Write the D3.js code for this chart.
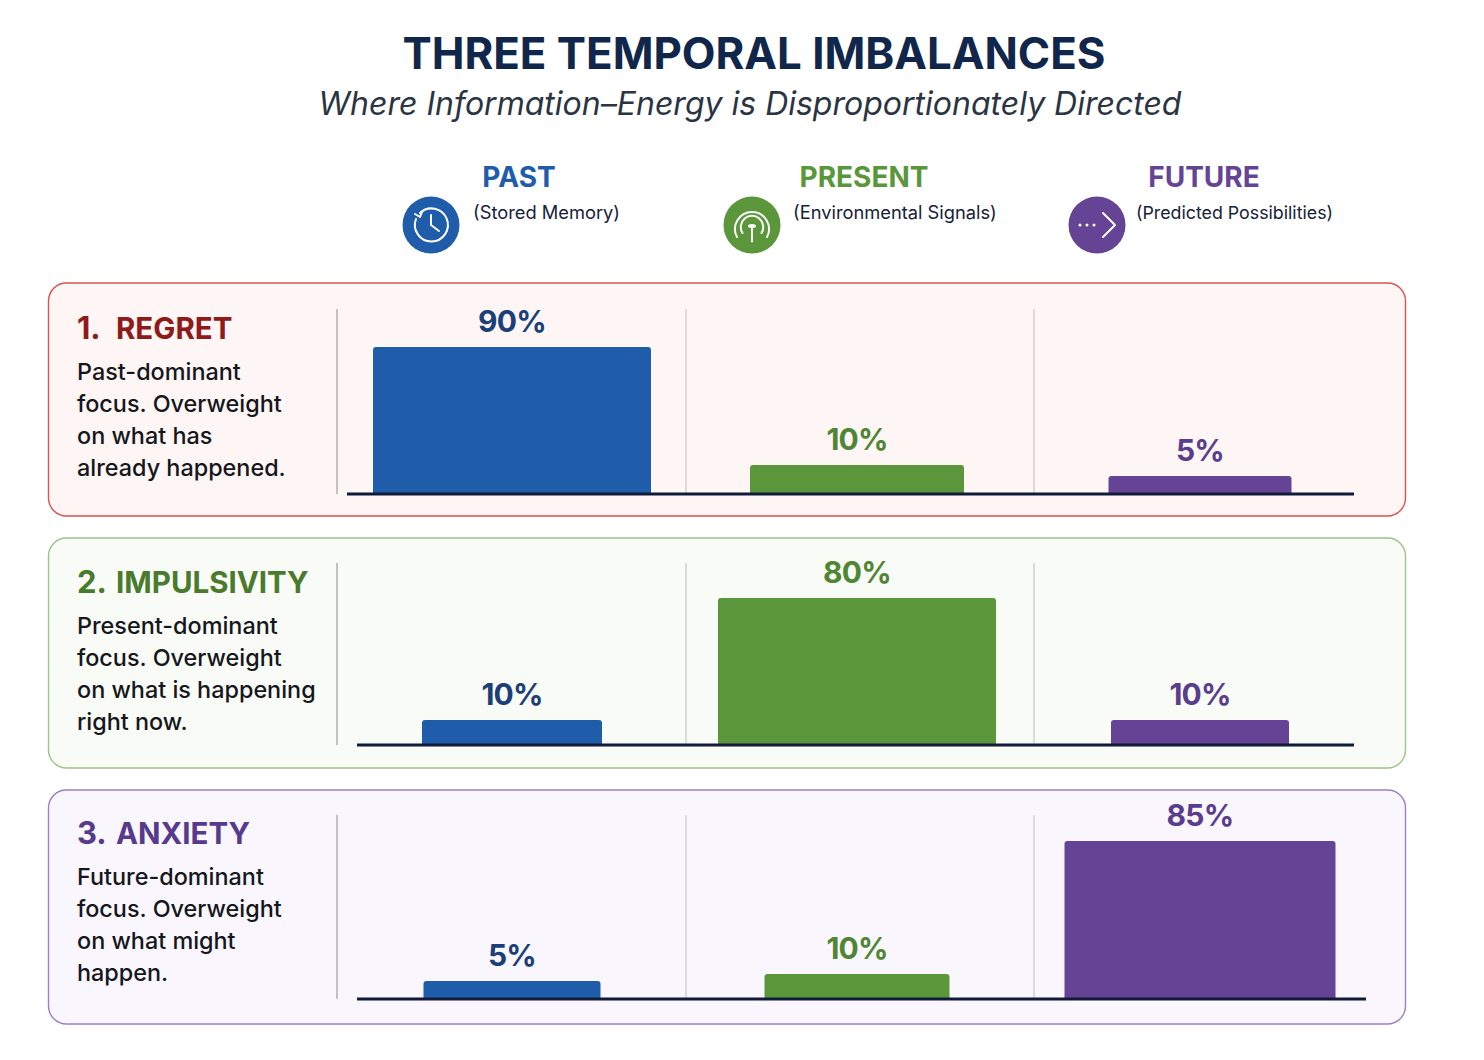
<!DOCTYPE html>
<html>
<head>
<meta charset="utf-8">
<script src="https://cdn.jsdelivr.net/npm/d3@7"></script>
<style>
  html, body { margin: 0; padding: 0; background: #fff; }
  svg { display: block; }
  text { font-family: Inter, Roboto, sans-serif; }
</style>
</head>
<body>
<div id="chart"></div>
<script>
// Data
const periods = ['PAST', 'PRESENT', 'FUTURE'];
const periodNotes = ['(Stored Memory)', '(Environmental Signals)', '(Predicted Possibilities)'];
const imbalanceNumbers = ['1.', '2.', '3.'];
const imbalances = ['REGRET', 'IMPULSIVITY', 'ANXIETY'];
const descriptions = [
  ['Past-dominant', 'focus. Overweight', 'on what has', 'already happened.'],
  ['Present-dominant', 'focus. Overweight', 'on what is happening', 'right now.'],
  ['Future-dominant', 'focus. Overweight', 'on what might', 'happen.']
];
const regretValues = [90, 10, 5];
const impulsivityValues = [10, 80, 10];
const anxietyValues = [5, 10, 85];

// Configuration
const WIDTH = 1484;
const HEIGHT = 1060;
const periodColors = ['#1f5dab', '#5b973a', '#654495'];
const labelColors = ['#1c3f77', '#4f8533', '#5b3d8e'];

// bars in the picture are not proportional, so each panel gets its own piecewise scale
const panels = [
  { values: regretValues, top: 283, bottom: 516, base: 494, ruleTop: 309, axis: [347, 1354],
    heights: [0, 18, 29, 147], widths: [278, 214, 183], edge: '#d9534f', fill: '#fdf6f5', titleColor: '#8e1a1a', titleY: 338.5, bodyY: 380 },
  { values: impulsivityValues, top: 538, bottom: 768, base: 745, ruleTop: 563, axis: [357, 1354],
    heights: [0, 18, 25, 147], widths: [180, 278, 178], edge: '#9dc48a', fill: '#f8fbf6', titleColor: '#4a7a2b', titleY: 592.5, bodyY: 634 },
  { values: anxietyValues, top: 790, bottom: 1024, base: 999, ruleTop: 815, axis: [357, 1366],
    heights: [0, 18, 25, 158], widths: [177, 185, 271], edge: '#9a80c6', fill: '#f9f7fd', titleColor: '#573a8c', titleY: 844, bodyY: 885 }
];

const svg = d3.select('#chart').append('svg')
  .attr('width', WIDTH)
  .attr('height', HEIGHT);

const x = d3.scaleOrdinal().domain(periods).range([512, 857, 1200]);

// Title
svg.append('text')
  .attr('x', 754).attr('y', 69)
  .attr('text-anchor', 'middle')
  .attr('font-size', 43.8).attr('font-weight', 700)
  .attr('fill', '#10264a')
  .text('THREE TEMPORAL IMBALANCES');

svg.append('text')
  .attr('x', 750).attr('y', 115)
  .attr('text-anchor', 'middle')
  .attr('font-size', 32).attr('font-style', 'italic')
  .attr('fill', '#2b3442')
  .text('Where Information\u2013Energy is Disproportionately Directed');

// Column header
const headerX = [519, 864, 1204];
const noteX = [473, 793, 1136];
const noteSize = [18.3, 18.3, 17.8];
const iconX = [431, 752, 1097];

periods.forEach((p, i) => {
  svg.append('text')
    .attr('x', headerX[i]).attr('y', 186.5)
    .attr('text-anchor', 'middle')
    .attr('font-size', 28).attr('font-weight', 700)
    .attr('fill', periodColors[i])
    .text(p);
  svg.append('text')
    .attr('x', noteX[i]).attr('y', 218.5)
    .attr('font-size', noteSize[i])
    .attr('fill', '#16213a')
    .text(periodNotes[i]);
  const icon = svg.append('g').attr('transform', `translate(${iconX[i]},225)`);
  icon.append('circle').attr('r', 28.5).attr('fill', periodColors[i]);
  drawIcon(icon, i);
});

function drawIcon(g, i) {
  const s = { fill: 'none', stroke: '#fff', 'stroke-width': 2, 'stroke-linecap': 'round', 'stroke-linejoin': 'round' };
  const add = (d) => {
    const el = g.append('path').attr('d', d);
    Object.entries(s).forEach(([k, v]) => el.attr(k, v));
    return el;
  };
  if (i === 0) {
    add('M-11,-12 A16.5,16.5 0 1 1 -15,-6');
    add('M-16,-11 L-11,-8 L-9,-13');
    add('M0,-10 L0,0 L8,6');
  } else if (i === 1) {
    add('M-15,12 A17,17 0 1 1 15,12');
    add('M-9.5,8 A11.2,11.2 0 1 1 9.5,8');
    add('M0,1 L0,16.5');
    g.append('ellipse').attr('cx', 0).attr('cy', 1).attr('rx', 4).attr('ry', 2).attr('fill', '#fff');
  } else {
    g.selectAll('circle.dot').data([-17, -10, -3]).enter().append('circle')
      .attr('class', 'dot').attr('cx', d => d).attr('cy', 0).attr('r', 1.5).attr('fill', '#fff');
    add('M6,-12 L18,0 L6,12');
  }
}

// Panels
panels.forEach((panel, k) => {
  const g = svg.append('g');

  g.append('rect')
    .attr('x', 48.5).attr('y', panel.top)
    .attr('width', 1357).attr('height', panel.bottom - panel.top)
    .attr('rx', 18)
    .attr('fill', panel.fill)
    .attr('stroke', panel.edge)
    .attr('stroke-width', 1.4);

  g.append('text')
    .attr('x', 77).attr('y', panel.titleY)
    .attr('font-size', 31).attr('font-weight', 700)
    .attr('fill', panel.titleColor)
    .text(imbalanceNumbers[k]);

  g.append('text')
    .attr('x', 116).attr('y', panel.titleY)
    .attr('font-size', 29.5).attr('font-weight', 700)
    .attr('fill', panel.titleColor)
    .text(imbalances[k]);

  descriptions[k].forEach((line, j) => {
    g.append('text')
      .attr('x', 77).attr('y', panel.bodyY + j * 32.1)
      .attr('font-size', 23.4).attr('font-weight', 500)
      .attr('fill', '#15171c')
      .text(line);
  });

  // vertical separators
  [337, 686, 1034].forEach((sx, j) => {
    g.append('line')
      .attr('x1', sx).attr('x2', sx)
      .attr('y1', panel.ruleTop).attr('y2', panel.base)
      .attr('stroke', j === 0 ? '#8f8a8a' : '#bdbdbd')
      .attr('stroke-width', 1);
  });

  const y = d3.scaleLinear()
    .domain([0, 5, 10, d3.max(panel.values)])
    .range(panel.heights.map(h => panel.base - h));

  g.selectAll('.bar').data(panel.values).enter().append('path')
    .attr('class', 'bar')
    .attr('fill', (d, i) => periodColors[i])
    .attr('d', (d, i) => {
      const w = panel.widths[i];
      const x0 = x(periods[i]) - w / 2;
      const r = 3;
      return `M${x0},${panel.base}V${y(d) + r}Q${x0},${y(d)} ${x0 + r},${y(d)}H${x0 + w - r}Q${x0 + w},${y(d)} ${x0 + w},${y(d) + r}V${panel.base}Z`;
    });

  g.selectAll('.val').data(panel.values).enter().append('text')
    .attr('class', 'val')
    .attr('x', (d, i) => x(periods[i]))
    .attr('y', d => y(d) - 15)
    .attr('text-anchor', 'middle')
    .attr('font-size', 30).attr('font-weight', 700)
    .attr('letter-spacing', -0.8)
    .attr('fill', (d, i) => labelColors[i])
    .text(d => d + '%');

  // baseline
  g.append('line')
    .attr('x1', panel.axis[0]).attr('x2', panel.axis[1])
    .attr('y1', panel.base).attr('y2', panel.base)
    .attr('stroke', '#121a3a')
    .attr('stroke-width', 3);
});
</script>
</body>
</html>
